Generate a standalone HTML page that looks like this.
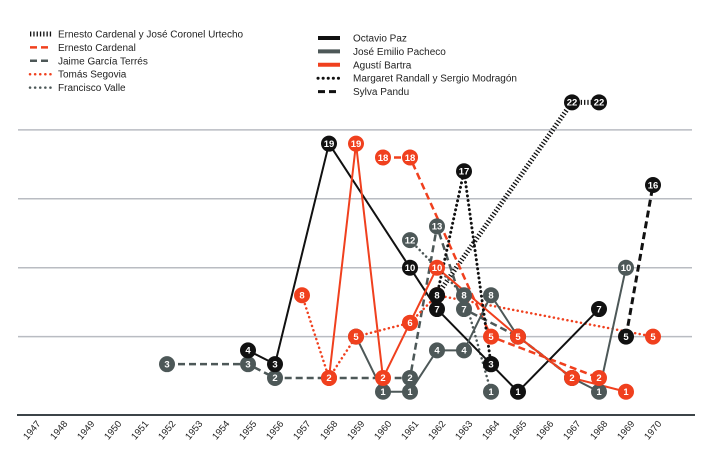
<!DOCTYPE html>
<html><head><meta charset="utf-8"><style>
html,body{margin:0;padding:0;background:#fff;}
svg{display:block;font-family:"Liberation Sans",sans-serif;}
</style></head><body>
<svg id="chart" width="709" height="464" viewBox="0 0 709 464">
<g id="legend"></g>
<g id="grid"></g>
<g id="xaxis"></g>
<g id="series"></g>
<g id="marks"></g>
</svg>
<script>
const years = [1947,1948,1949,1950,1951,1952,1953,1954,1955,1956,1957,1958,1959,1960,1961,1962,1963,1964,1965,1966,1967,1968,1969,1970];
const gridValues = [5,10,15,20];
const seriesNames = ["Ernesto Cardenal y José Coronel Urtecho","Ernesto Cardenal","Jaime García Terrés","Tomás Segovia","Francisco Valle","Octavio Paz","José Emilio Pacheco","Agustí Bartra","Margaret Randall y Sergio Modragón","Sylva Pandu"];
const urtechoYears = [1962,1967,1968];
const urtechoValues = [8,22,22];
const cardenalYears = [1960,1961,1964,1968];
const cardenalValues = [18,18,5,2];
const terresYears = [1952,1955,1956,1961,1962,1963,1965,1967];
const terresValues = [3,3,2,2,13,7,5,2];
const segoviaYears = [1957,1958,1959,1961,1962,1970];
const segoviaValues = [8,2,5,6,8,5];
const valleYears = [1961,1963,1964];
const valleValues = [12,8,1];
const pazYears = [1955,1956,1958,1961,1962,1964,1965,1968];
const pazValues = [4,3,19,10,7,3,1,7];
const pachecoYears = [1959,1960,1961,1962,1963,1964,1965,1967,1968,1969];
const pachecoValues = [5,1,1,4,4,8,5,2,1,10];
const bartraYears = [1958,1959,1960,1961,1962,1965,1967,1969];
const bartraValues = [2,19,2,6,10,5,2,1];
const randallYears = [1962,1963,1964];
const randallValues = [8,17,3];
const panduYears = [1969,1970];
const panduValues = [5,16];

const BLACK="#111", GRAY="#4d5858", RED="#f0401e";
const NS="http://www.w3.org/2000/svg";
function xS(yr){return 32+(yr-1947)*27;}
function yS(v){return 405.5-13.78*v;}
function mk(tag,attrs,parent){const e=document.createElementNS(NS,tag);for(const k in attrs)e.setAttribute(k,attrs[k]);parent.appendChild(e);return e;}

const styles=[
 {ys:urtechoYears,vs:urtechoValues,c:BLACK,w:5,d:"1.3,2",cap:"butt"},
 {ys:cardenalYears,vs:cardenalValues,c:RED,w:2.5,d:"7,4",cap:"butt"},
 {ys:terresYears,vs:terresValues,c:GRAY,w:2.5,d:"7,4",cap:"butt"},
 {ys:segoviaYears,vs:segoviaValues,c:RED,w:2.5,d:"0.1,4.5",cap:"round"},
 {ys:valleYears,vs:valleValues,c:GRAY,w:2.5,d:"0.1,4.5",cap:"round"},
 {ys:pazYears,vs:pazValues,c:BLACK,w:2,d:"",cap:"butt"},
 {ys:pachecoYears,vs:pachecoValues,c:GRAY,w:2,d:"",cap:"butt"},
 {ys:bartraYears,vs:bartraValues,c:RED,w:2,d:"",cap:"butt"},
 {ys:randallYears,vs:randallValues,c:BLACK,w:3,d:"0.1,4.5",cap:"round"},
 {ys:panduYears,vs:panduValues,c:BLACK,w:3,d:"7,4",cap:"butt"}
];

const lg=document.getElementById('legend');
styles.forEach((s,i)=>{
  const left=i<5;
  const r=left?i:i-5;
  const sx=left?30:318, tx=left?58:353, y=(left?34:38)+r*13.4;
  const ln=mk('line',{x1:sx,y1:y,x2:sx+22,y2:y,stroke:s.c,'stroke-width':s.d===""?4:(s.w),'stroke-dasharray':s.d===""?"none":(s.d==="0.1,4.5"?"0.1,5":s.d),'stroke-linecap':s.cap},lg);
  
  
  const t=mk('text',{x:tx,y:y+3.5,'font-size':10,fill:'#222'},lg);
  t.textContent=seriesNames[i];
  
  
});

const g=document.getElementById('grid');
gridValues.forEach(v=>{
  const l=mk('line',{x1:18,x2:692,y1:yS(v),y2:yS(v),stroke:'#b9bcc2','stroke-width':1.5},g);
  
  
});
const xa=document.getElementById('xaxis');
const base=mk('line',{x1:17,x2:695,y1:415,y2:415,stroke:'#3c4448','stroke-width':2},xa);


years.forEach(yr=>{
  const x=xS(yr)+9;
  const t=mk('text',{x:x,y:424,'font-size':9.5,fill:'#222','text-anchor':'end',transform:`rotate(-50 ${x} 424)`},xa);
  t.textContent=yr;
  
  
});

const sg=document.getElementById('series'), mg=document.getElementById('marks');
styles.forEach((s,i)=>{
  const pts=s.ys.map((yr,j)=>xS(yr)+","+yS(s.vs[j])).join(" ");
  const p=mk('polyline',{points:pts,fill:'none',stroke:s.c,'stroke-width':s.w,'stroke-dasharray':s.d||"none",'stroke-linecap':s.cap,'stroke-linejoin':'round'},sg);
  
  
});
const order=[4,2,6,3,1,7,0,8,5,9];
order.forEach(i=>{
  const s=styles[i];
  s.ys.forEach((yr,j)=>{
    const cx=xS(yr), cy=yS(s.vs[j]);
    const c=mk('circle',{cx:cx,cy:cy,r:8,fill:s.c},mg);
    
    
    const t=mk('text',{x:cx,y:cy+3.3,'font-size':9.5,fill:'#fff','text-anchor':'middle','font-weight':'bold'},mg);
    t.textContent=s.vs[j];
    
    
  });
});
</script>
</body></html>
